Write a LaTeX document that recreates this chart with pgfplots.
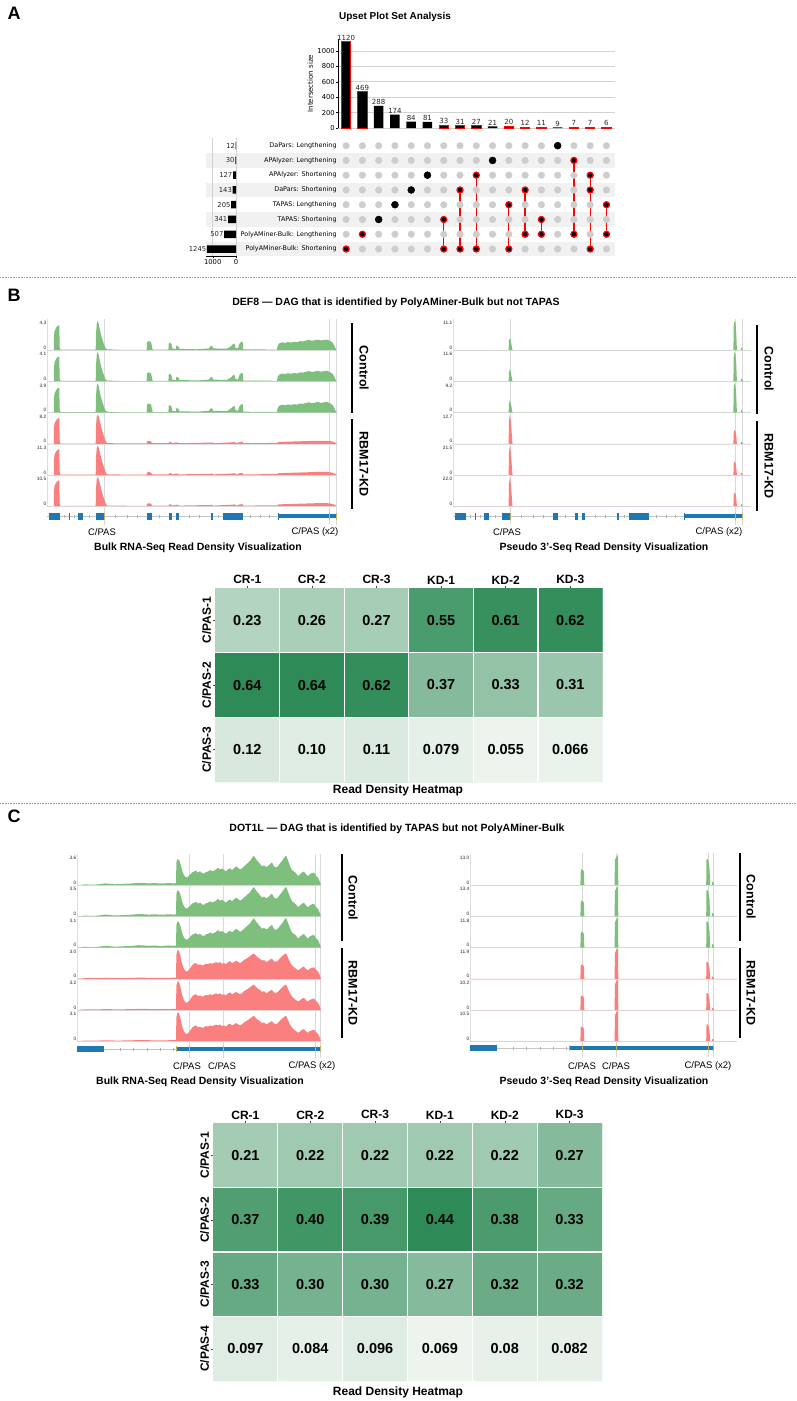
\documentclass[border=0pt]{standalone}
\usepackage{pgfplots}
\pgfplotsset{compat=1.18}
\usepackage{pgfplotstable}
\usepackage{fontspec}
\setmainfont{Liberation Sans}
\newfontfamily\dv{DejaVu Sans}
\newcommand\fs[1]{\fontsize{#1}{#1}\selectfont}

\definecolor{ctrl}{RGB}{127,191,125}
\definecolor{kd}{RGB}{250,128,128}
\definecolor{exon}{RGB}{31,119,180}
\definecolor{mk}{RGB}{196,180,90}
\definecolor{stripe}{RGB}{241,241,241}
\definecolor{dotg}{RGB}{205,205,205}

\tikzset{tl/.style={font=\fs{4.8}, inner sep=0.6pt, text=black!85}}
\pgfplotsset{
  /pgf/number format/1000 sep={},
  /pgf/number format/assume math mode=true,
  trk/.style={scale only axis, anchor=north west, height=31.2pt, xmin=0, ymin=0, ymax=1.03,
    axis x line*=bottom, axis y line*=left, axis line style={gray!25, line width=0.4pt},
    ticks=none, clip=false},
  gene/.style={scale only axis, anchor=west, height=10pt, ymin=-5, ymax=5, hide axis, clip=false},
  vl/.style={gray!30, line width=0.5pt},
  hm/.style={scale only axis, anchor=north west, xmin=0.5, xmax=6.5, ymin=0.5, y dir=reverse,
    xtick={1,...,6}, xticklabels={CR-1,CR-2,CR-3,KD-1,KD-2,KD-3},
    xtick pos=upper, xticklabel pos=upper, ytick pos=left,
    xticklabel style={font=\bfseries\fs{12}, inner sep=1.2pt},
    yticklabel style={rotate=90, anchor=south, font=\bfseries\fs{12}, inner sep=1.2pt},
    colormap={greens}{rgb255=(237,244,238) rgb255=(46,139,87)},
    axis on top, xminorgrids, yminorgrids,
    minor grid style={white, line width=1.2pt}, minor tick length=0pt,
    major tick length=2.5pt, tick align=outside, tick style={black!70, line width=0.5pt},
    axis line style={draw=none}},
  hl/.style={only marks, mark=*, mark size=0pt, mark options={draw=none, fill=none},
    point meta=explicit symbolic, nodes near coords,
    every node near coord/.append style={anchor=center, font=\bfseries\fs{14.5}, text=black}},
}

% one track: x, y top, width (= x range), top label, table, colour
\newcommand{\track}[6]{%
  \begin{axis}[trk, at={(#1pt,-#2pt)}, width=#3pt, xmax=#3]
    \addplot[fill=#6, draw=none] table {#5} \closedcycle;
    \node[tl, anchor=north east, yshift=-1.5pt] at (rel axis cs:0,1) {#4};
    \node[tl, anchor=south east] at (rel axis cs:0,0) {0};
  \end{axis}}

% ---- DEF8 bulk
\pgfplotstableread{
u y
0 0
6.8 0
7 0.45
7.5 0.62
8.5 0.7
9.5 0.76
10.5 0.8
11.5 0.82
12.3 0.8
12.7 0.1
13.5 0.02
30 0.02
45 0.015
48.7 0.02
49 0.55
49.8 0.88
50.6 0.97
51.5 0.9
52.5 0.74
53.5 0.58
54.5 0.45
55.5 0.34
56.5 0.24
57.5 0.15
58.5 0.07
60 0.03
75 0.01
99.6 0.01
100 0.25
101 0.3
102.5 0.29
104 0.27
105 0.12
105.6 0.02
121.4 0.02
121.8 0.23
123 0.25
124.5 0.2
125.2 0.06
129 0.04
129.4 0.16
130.5 0.14
132 0.1
132.5 0.04
140 0.04
150 0.03
158 0.05
162 0.06
163.5 0.13
165 0.15
166.2 0.06
176 0.05
180 0.05
183.5 0.12
186 0.2
187.5 0.22
188.5 0.08
191 0.06
192.5 0.22
194.5 0.28
195.8 0.26
196.3 0.03
230 0.02
230.6 0.14
232 0.22
235 0.26
238 0.24
241 0.27
244 0.25
247 0.28
250 0.26
253 0.3
256 0.29
259 0.32
262 0.34
265 0.31
268 0.33
271 0.35
274 0.32
277 0.34
280 0.35
283 0.31
285.5 0.25
287.5 0.14
289 0.03
290 0
}\bBC
\pgfplotstableread{
u y
0 0
6.8 0
7 0.5
7.5 0.66
8.5 0.74
9.5 0.79
10.5 0.83
11.5 0.85
12.3 0.82
12.7 0.1
13.5 0.01
48.7 0.01
49 0.6
49.8 0.9
50.6 0.96
51.5 0.92
52.5 0.8
53.5 0.66
54.5 0.52
55.5 0.4
56.5 0.3
57.5 0.2
58.5 0.1
60 0.02
99.6 0.01
100 0.08
102 0.1
104 0.08
105 0.02
121.8 0.02
122 0.06
124 0.06
125 0.02
129.4 0.05
131 0.04
132 0.02
163.5 0.04
165 0.05
166 0.02
185 0.05
188 0.06
189 0.02
193 0.06
195.5 0.07
196.3 0.02
230.5 0.03
231 0.06
240 0.07
250 0.08
260 0.09
270 0.1
280 0.1
285 0.08
288 0.04
290 0
}\bBK
% ---- DEF8 pseudo 3'
\pgfplotstableread{
u y
0 0
55.6 0
56 0.3
56.8 0.4
57.6 0.34
58.4 0.2
59.2 0.05
59.6 0
280.4 0
280.7 0.8
281.5 0.96
282.4 0.92
283.2 0.6
283.8 0.1
284.1 0
287.8 0
288.1 0.1
289 0.07
289.8 0.02
290 0
298 0
}\pBC
\pgfplotstableread{
u y
0 0
55.6 0
56 0.75
56.8 0.96
57.6 0.8
58.4 0.5
59.2 0.12
59.6 0
280.4 0
280.7 0.36
281.5 0.45
282.4 0.43
283.2 0.28
283.8 0.05
284.1 0
287.8 0
288.1 0.07
289 0.05
289.8 0.01
290 0
298 0
}\pBK
% ---- DOT1L bulk
\pgfplotstableread{
u y
0 0
4 0.01
8 0.03
12 0.02
18 0.02
24 0.04
28 0.06
32 0.05
38 0.03
44 0.04
50 0.05
56 0.06
62 0.08
67 0.07
72 0.06
77 0.07
82 0.06
87 0.06
92 0.07
97 0.06
99 0.07
99.4 0.75
100.5 0.86
102 0.84
103.5 0.7
105 0.5
107 0.33
109 0.26
111 0.28
113 0.35
115 0.42
117 0.45
119 0.48
121 0.42
123 0.46
125 0.40
127 0.38
129 0.44
131 0.45
133 0.50
135 0.46
137 0.48
139 0.52
141 0.58
143 0.52
145 0.55
147 0.50
149 0.46
151 0.52
153 0.56
155 0.50
157 0.56
159 0.62
161 0.58
163 0.52
165 0.56
167 0.62
169 0.68
171 0.74
173 0.80
175 0.90
177 0.97
179 0.86
181 0.78
183 0.70
185 0.62
187 0.66
189 0.60
191 0.63
193 0.70
195 0.75
197 0.62
199 0.58
201 0.63
203 0.72
205 0.80
207 0.90
209 0.98
211 0.82
213 0.64
215 0.50
217 0.45
219 0.40
221 0.30
223 0.36
225 0.42
227 0.45
229 0.36
231 0.30
233 0.37
235 0.40
237 0.42
239 0.31
241 0.25
243 0.10
244 0
}\bCC
\pgfplotstableread{
u y
0 0
8 0.02
20 0.02
30 0.03
40 0.02
55 0.03
63 0.04
75 0.03
90 0.03
99 0.04
99.4 0.8
100.5 0.95
102 0.92
103.5 0.75
105 0.5
107 0.32
109 0.24
111 0.26
113 0.34
115 0.44
117 0.50
119 0.52
121 0.46
123 0.48
125 0.44
127 0.46
129 0.50
131 0.48
133 0.52
135 0.50
137 0.52
139 0.55
141 0.52
143 0.55
145 0.50
147 0.52
149 0.48
151 0.55
153 0.58
155 0.52
157 0.55
159 0.60
161 0.56
163 0.52
165 0.56
167 0.62
169 0.66
171 0.70
173 0.75
175 0.80
177 0.84
179 0.76
181 0.70
183 0.66
185 0.60
187 0.62
189 0.56
191 0.58
193 0.64
195 0.66
197 0.58
199 0.56
201 0.60
203 0.68
205 0.74
207 0.80
209 0.84
211 0.70
213 0.55
215 0.45
217 0.38
219 0.33
221 0.28
223 0.32
225 0.38
227 0.40
229 0.32
231 0.28
233 0.34
235 0.36
237 0.38
239 0.30
241 0.24
243 0.10
244 0
}\bCK
% ---- DOT1L pseudo 3'
\pgfplotstableread{
u y
0 0
110.4 0
110.7 0.48
111.8 0.53
113 0.5
114 0.44
114.3 0
144.6 0
144.9 0.84
146 0.91
147 0.96
148 1.0
148.3 0
236.2 0
236.5 0.86
237.5 0.87
238.5 0.8
239.5 0.55
240.2 0
242 0
242.3 0.12
243.3 0.1
244.2 0
267 0
}\pCC
\pgfplotstableread{
u y
0 0
110.4 0
110.7 0.44
111.8 0.48
113 0.46
114 0.4
114.3 0
144.6 0
144.9 0.85
146 0.93
147 0.98
148 1.0
148.3 0
236.2 0
236.5 0.55
237.5 0.56
238.5 0.5
239.5 0.35
240.2 0
242 0
242.3 0.08
243.3 0.06
244.2 0
267 0
}\pCK
% ---- heatmaps
\pgfplotstableread{
x y t
1 1 0.23
2 1 0.26
3 1 0.27
4 1 0.55
5 1 0.61
6 1 0.62
1 2 0.64
2 2 0.64
3 2 0.62
4 2 0.37
5 2 0.33
6 2 0.31
1 3 0.12
2 3 0.10
3 3 0.11
4 3 0.079
5 3 0.055
6 3 0.066
}\hmB
\pgfplotstableread{
x y t
1 1 0.21
2 1 0.22
3 1 0.22
4 1 0.22
5 1 0.22
6 1 0.27
1 2 0.37
2 2 0.40
3 2 0.39
4 2 0.44
5 2 0.38
6 2 0.33
1 3 0.33
2 3 0.30
3 3 0.30
4 3 0.27
5 3 0.32
6 3 0.32
1 4 0.097
2 4 0.084
3 4 0.096
4 4 0.069
5 4 0.08
6 4 0.082
}\hmC

\newcommand{\geneB}{%
  \addplot[vl] coordinates {(57.3,-9)(57.3,197)};
  \addplot[vl] coordinates {(282.3,-9)(282.3,197)};
  \addplot[vl] coordinates {(289.3,-9)(289.3,197)};
  \addplot[gray!45, line width=0.6pt] coordinates {(0,0)(290,0)};
  \addplot[only marks, mark=|, mark size=1.5pt, mark options={gray!60, line width=0.4pt}]
    coordinates {(17,0)(27,0)(42,0)(68,0)(80,0)(90,0)(112,0)(142,0)(152,0)(171,0)(203,0)(213,0)(222,0)};
  \addplot[exon, line width=7pt] coordinates {(2.3,0)(12.7,0)};
  \addplot[exon, line width=7pt] coordinates {(21.7,0)(22.7,0)};
  \addplot[exon, line width=7pt] coordinates {(31.3,0)(36,0)};
  \addplot[exon, line width=7pt] coordinates {(49,0)(58.3,0)};
  \addplot[exon, line width=7pt] coordinates {(100,0)(105,0)};
  \addplot[exon, line width=7pt] coordinates {(121.7,0)(125,0)};
  \addplot[exon, line width=7pt] coordinates {(129,0)(132.3,0)};
  \addplot[exon, line width=7pt] coordinates {(164,0)(166,0)};
  \addplot[exon, line width=7pt] coordinates {(176,0)(196,0)};
  \addplot[exon, line width=7pt] coordinates {(230.7,0)(232,0)};
  \addplot[exon, line width=4pt] coordinates {(232,0)(289.5,0)};
  \addplot[only marks, mark=|, mark size=3.5pt, mark options={mk, line width=1pt}]
    coordinates {(57.3,0)(282.3,0)(289.3,0)};
}
\newcommand{\geneC}{%
  \addplot[vl] coordinates {(112,-9)(112,195)};
  \addplot[vl] coordinates {(146,-9)(146,195)};
  \addplot[vl] coordinates {(238,-9)(238,195)};
  \addplot[vl] coordinates {(243,-9)(243,195)};
  \addplot[gray!45, line width=0.6pt] coordinates {(27,0)(99,0)};
  \addplot[only marks, mark=|, mark size=1.5pt, mark options={gray!60, line width=0.4pt}]
    coordinates {(43,0)(56,0)(70,0)(83,0)(96,0)};
  \addplot[exon, line width=6pt] coordinates {(0,0)(27,0)};
  \addplot[exon, line width=4pt] coordinates {(99,0)(244,0)};
  \addplot[only marks, mark=|, mark size=3pt, mark options={mk, line width=1pt}]
    coordinates {(99.3,0)(112,0)(146,0)(238,0)(243,0)};
}

\begin{document}
\begin{tikzpicture}
\path[use as bounding box] (0,0) rectangle (796pt,-1401pt);

% ================= A : upset plot =================
\node[font=\bfseries\fs{18}] at (14pt,-13pt) {A};
\node[font=\bfseries\fs{10}] at (395pt,-17pt) {Upset Plot Set Analysis};

% matrix (stripes, dots, links)
\begin{axis}[at={(338pt,-138.3pt)}, anchor=north west, scale only axis,
    width=276.6pt, height=118.1pt, xmin=0.5, xmax=17.5, ymin=0.5, ymax=8.5, y dir=reverse,
    axis line style={draw=none}, xtick=\empty, ytick={1,...,8}, major tick length=0pt,
    yticklabels={DaPars: Lengthening, APAlyzer: Lengthening, APAlyzer: Shortening, DaPars: Shortening,
      TAPAS: Lengthening, TAPAS: Shortening, PolyAMiner-Bulk: Lengthening, PolyAMiner-Bulk: Shortening},
    yticklabel style={font=\dv\fs{6.4}, inner sep=1.2pt}, axis on top, clip=false]
  \fill[stripe] (axis cs:-7.6,1.5) rectangle (axis cs:17.5,2.5);
  \fill[stripe] (axis cs:-7.6,3.5) rectangle (axis cs:17.5,4.5);
  \fill[stripe] (axis cs:-7.6,5.5) rectangle (axis cs:17.5,6.5);
  \fill[stripe] (axis cs:-7.6,7.5) rectangle (axis cs:17.5,8.5);
  \addplot[only marks, mark=*, mark size=3.3pt, mark options={fill=dotg, draw=dotg}] coordinates {
    (1,1)(2,1)(3,1)(4,1)(5,1)(6,1)(7,1)(8,1)(9,1)(10,1)(11,1)(12,1)(13,1)(14,1)(15,1)(16,1)(17,1)
    (1,2)(2,2)(3,2)(4,2)(5,2)(6,2)(7,2)(8,2)(9,2)(10,2)(11,2)(12,2)(13,2)(14,2)(15,2)(16,2)(17,2)
    (1,3)(2,3)(3,3)(4,3)(5,3)(6,3)(7,3)(8,3)(9,3)(10,3)(11,3)(12,3)(13,3)(14,3)(15,3)(16,3)(17,3)
    (1,4)(2,4)(3,4)(4,4)(5,4)(6,4)(7,4)(8,4)(9,4)(10,4)(11,4)(12,4)(13,4)(14,4)(15,4)(16,4)(17,4)
    (1,5)(2,5)(3,5)(4,5)(5,5)(6,5)(7,5)(8,5)(9,5)(10,5)(11,5)(12,5)(13,5)(14,5)(15,5)(16,5)(17,5)
    (1,6)(2,6)(3,6)(4,6)(5,6)(6,6)(7,6)(8,6)(9,6)(10,6)(11,6)(12,6)(13,6)(14,6)(15,6)(16,6)(17,6)
    (1,7)(2,7)(3,7)(4,7)(5,7)(6,7)(7,7)(8,7)(9,7)(10,7)(11,7)(12,7)(13,7)(14,7)(15,7)(16,7)(17,7)
    (1,8)(2,8)(3,8)(4,8)(5,8)(6,8)(7,8)(8,8)(9,8)(10,8)(11,8)(12,8)(13,8)(14,8)(15,8)(16,8)(17,8)};
  \addplot[red, line width=1.3pt] coordinates {(7,6)(7,8)};
  \addplot[red, line width=1.3pt] coordinates {(8,4)(8,8)};
  \addplot[red, line width=1.3pt] coordinates {(9,3)(9,8)};
  \addplot[red, line width=1.3pt] coordinates {(11,5)(11,8)};
  \addplot[red, line width=1.3pt] coordinates {(12,4)(12,7)};
  \addplot[red, line width=1.3pt] coordinates {(13,6)(13,7)};
  \addplot[red, line width=1.3pt] coordinates {(15,2)(15,7)};
  \addplot[red, line width=1.3pt] coordinates {(16,3)(16,8)};
  \addplot[red, line width=1.3pt] coordinates {(17,5)(17,7)};
  \addplot[only marks, mark=*, mark size=3.5pt, mark options={fill=black, draw=black}]
    coordinates {(3,6)(4,5)(5,4)(6,3)(10,2)(14,1)};
  \addplot[only marks, mark=*, mark size=3.0pt, mark options={fill=black, draw=red, line width=1.2pt}]
    coordinates {(1,8)(2,7)(7,6)(7,8)(8,4)(8,8)(9,3)(9,8)(11,5)(11,8)(12,4)(12,7)(13,6)(13,7)
                 (15,2)(15,7)(16,3)(16,4)(16,8)(17,5)(17,7)};
\end{axis}

% set sizes
\begin{axis}[at={(236pt,-138.3pt)}, anchor=north east, scale only axis,
    width=30.3pt, height=118.1pt, xmin=0, xmax=1300, x dir=reverse,
    ymin=0.5, ymax=8.5, y dir=reverse, xbar, bar width=7.5pt,
    axis y line=none, axis x line*=bottom, axis line style={black, line width=0.5pt},
    xtick={0,1000}, xmajorgrids, grid style={gray!35, line width=0.5pt},
    tick align=outside, major tick length=2pt, tick style={black},
    xticklabel style={font=\dv\fs{6.8}, inner sep=1pt}, clip=false]
  \addplot[fill=black, draw=none, bar shift=0pt, nodes near coords,
      every node near coord/.append style={anchor=east, font=\dv\fs{6.8}, inner sep=0.6pt, text=black!85}]
    coordinates {(12,1)(30,2)(127,3)(143,4)(205,5)(341,6)(507,7)(1245,8)};
\end{axis}

% intersection sizes
\begin{axis}[at={(338pt,-128pt)}, anchor=south west, scale only axis,
    width=276.6pt, height=88.6pt, xmin=0.5, xmax=17.5, ymin=0, ymax=1150,
    ybar, bar width=9.5pt, axis x line=none, axis y line*=left,
    axis line style={black, line width=0.5pt},
    ytick={0,200,...,1000}, ymajorgrids, grid style={gray!35, line width=0.6pt},
    tick align=outside, major tick length=2pt, tick style={black},
    yticklabel style={font=\dv\fs{6.8}, inner sep=1pt},
    ylabel={Intersection size}, ylabel style={font=\dv\fs{7}},
    nodes near coords, every node near coord/.append style={font=\dv\fs{7}, inner sep=1pt, text=black!85},
    clip=false]
  \addplot[fill=black, draw=none, bar shift=0pt]
    coordinates {(3,288)(4,174)(5,84)(6,81)(10,21)(14,9)};
  \addplot[fill=black, draw=red, line width=1pt, bar shift=0pt]
    coordinates {(1,1120)(2,469)(7,33)(8,31)(9,27)(11,20)(12,12)(13,11)(15,7)(16,7)(17,6)};
\end{axis}

% ================= B : DEF8 =================
\draw[gray!80, densely dotted, line width=0.6pt] (0,-277pt) -- (796pt,-277pt);
\node[font=\bfseries\fs{18}] at (14pt,-295pt) {B};
\node[font=\bfseries\fs{10.5}] at (396pt,-303pt) {DEF8 — DAG that is identified by PolyAMiner-Bulk but not TAPAS};

\begin{axis}[gene, at={(47pt,-516pt)}, width=290pt, xmin=0, xmax=290]
  \geneB
\end{axis}
\track{47}{319}{290}{4.3}{\bBC}{ctrl}
\track{47}{350.2}{290}{4.1}{\bBC}{ctrl}
\track{47}{381.4}{290}{3.9}{\bBC}{ctrl}
\track{47}{412.6}{290}{8.2}{\bBK}{kd}
\track{47}{443.8}{290}{11.3}{\bBK}{kd}
\track{47}{475}{290}{10.5}{\bBK}{kd}

\begin{axis}[gene, at={(453pt,-516pt)}, width=298pt, xmin=0, xmax=298]
  \geneB
\end{axis}
\track{453}{319}{298}{11.1}{\pBC}{ctrl}
\track{453}{350.2}{298}{11.6}{\pBC}{ctrl}
\track{453}{381.4}{298}{9.2}{\pBC}{ctrl}
\track{453}{412.6}{298}{12.7}{\pBK}{kd}
\track{453}{443.8}{298}{21.5}{\pBK}{kd}
\track{453}{475}{298}{22.0}{\pBK}{kd}

\draw[line width=2pt] (352pt,-323pt) -- (352pt,-413pt);
\draw[line width=2pt] (352pt,-419pt) -- (352pt,-509pt);
\node[rotate=-90, font=\bfseries\fs{12.5}] at (364pt,-368pt) {Control};
\node[rotate=-90, font=\bfseries\fs{12.5}] at (364pt,-464pt) {RBM17-KD};
\draw[line width=2pt] (757pt,-325pt) -- (757pt,-414pt);
\draw[line width=2pt] (757pt,-421pt) -- (757pt,-511pt);
\node[rotate=-90, font=\bfseries\fs{12.5}] at (769pt,-369pt) {Control};
\node[rotate=-90, font=\bfseries\fs{12.5}] at (769pt,-466pt) {RBM17-KD};

\node[font=\fs{9.5}] at (102pt,-532pt) {C/PAS};
\node[font=\fs{9.5}] at (315pt,-532pt) {C/PAS (x2)};
\node[font=\bfseries\fs{10.5}] at (198pt,-548pt) {Bulk RNA-Seq Read Density Visualization};
\node[font=\fs{9.5}] at (507pt,-532pt) {C/PAS};
\node[font=\fs{9.5}] at (719pt,-532pt) {C/PAS (x2)};
\node[font=\bfseries\fs{10.5}] at (604pt,-548pt) {Pseudo 3’-Seq Read Density Visualization};

\begin{axis}[hm, at={(215pt,-588pt)}, width=387.6pt, height=194pt, ymax=3.5,
    ytick={1,2,3}, yticklabels={C/PAS-1,C/PAS-2,C/PAS-3},
    minor xtick={1.5,2.5,3.5,4.5,5.5}, minor ytick={1.5,2.5},
    point meta min=0.055, point meta max=0.64]
  \addplot[matrix plot*, mesh/cols=6, point meta=explicit] table[meta=t] {\hmB};
  \addplot[hl] table[meta=t] {\hmB};
\end{axis}
\node[font=\bfseries\fs{12}] at (398pt,-790pt) {Read Density Heatmap};

% ================= C : DOT1L =================
\draw[gray!80, densely dotted, line width=0.6pt] (0,-803pt) -- (796pt,-803pt);
\node[font=\bfseries\fs{18}] at (14pt,-816pt) {C};
\node[font=\bfseries\fs{10.5}] at (397pt,-829pt) {DOT1L — DAG that is identified by TAPAS but not PolyAMiner-Bulk};

\begin{axis}[gene, at={(77pt,-1049pt)}, width=244pt, xmin=0, xmax=244]
  \geneC
\end{axis}
\track{77}{854}{244}{3.6}{\bCC}{ctrl}
\track{77}{885.2}{244}{3.5}{\bCC}{ctrl}
\track{77}{916.4}{244}{3.1}{\bCC}{ctrl}
\track{77}{947.6}{244}{3.0}{\bCK}{kd}
\track{77}{978.8}{244}{3.2}{\bCK}{kd}
\track{77}{1010}{244}{3.1}{\bCK}{kd}

\begin{axis}[gene, at={(470pt,-1048pt)}, width=267pt, xmin=0, xmax=267]
  \geneC
\end{axis}
\track{470}{854}{267}{13.0}{\pCC}{ctrl}
\track{470}{885.2}{267}{13.4}{\pCC}{ctrl}
\track{470}{916.4}{267}{11.8}{\pCC}{ctrl}
\track{470}{947.6}{267}{11.9}{\pCK}{kd}
\track{470}{978.8}{267}{10.2}{\pCK}{kd}
\track{470}{1010}{267}{10.5}{\pCK}{kd}

\draw[line width=2pt] (342pt,-854pt) -- (342pt,-941pt);
\draw[line width=2pt] (342pt,-948pt) -- (342pt,-1038pt);
\node[rotate=-90, font=\bfseries\fs{12.5}] at (353pt,-898pt) {Control};
\node[rotate=-90, font=\bfseries\fs{12.5}] at (353pt,-993pt) {RBM17-KD};
\draw[line width=2pt] (740pt,-853pt) -- (740pt,-941pt);
\draw[line width=2pt] (740pt,-948pt) -- (740pt,-1038pt);
\node[rotate=-90, font=\bfseries\fs{12.5}] at (751pt,-897pt) {Control};
\node[rotate=-90, font=\bfseries\fs{12.5}] at (751pt,-993pt) {RBM17-KD};

\node[font=\fs{9.5}] at (187pt,-1066pt) {C/PAS};
\node[font=\fs{9.5}] at (222pt,-1066pt) {C/PAS};
\node[font=\fs{9.5}] at (312pt,-1066pt) {C/PAS (x2)};
\node[font=\bfseries\fs{10.5}] at (200pt,-1082pt) {Bulk RNA-Seq Read Density Visualization};
\node[font=\fs{9.5}] at (582pt,-1066pt) {C/PAS};
\node[font=\fs{9.5}] at (616pt,-1066pt) {C/PAS};
\node[font=\fs{9.5}] at (708pt,-1066pt) {C/PAS (x2)};
\node[font=\bfseries\fs{10.5}] at (604pt,-1082pt) {Pseudo 3’-Seq Read Density Visualization};

\begin{axis}[hm, at={(213pt,-1123pt)}, width=389pt, height=258pt, ymax=4.5,
    ytick={1,2,3,4}, yticklabels={C/PAS-1,C/PAS-2,C/PAS-3,C/PAS-4},
    minor xtick={1.5,2.5,3.5,4.5,5.5}, minor ytick={1.5,2.5,3.5},
    point meta min=0.069, point meta max=0.44]
  \addplot[matrix plot*, mesh/cols=6, point meta=explicit] table[meta=t] {\hmC};
  \addplot[hl] table[meta=t] {\hmC};
\end{axis}
\node[font=\bfseries\fs{12}] at (398pt,-1392pt) {Read Density Heatmap};
\end{tikzpicture}
\end{document}
